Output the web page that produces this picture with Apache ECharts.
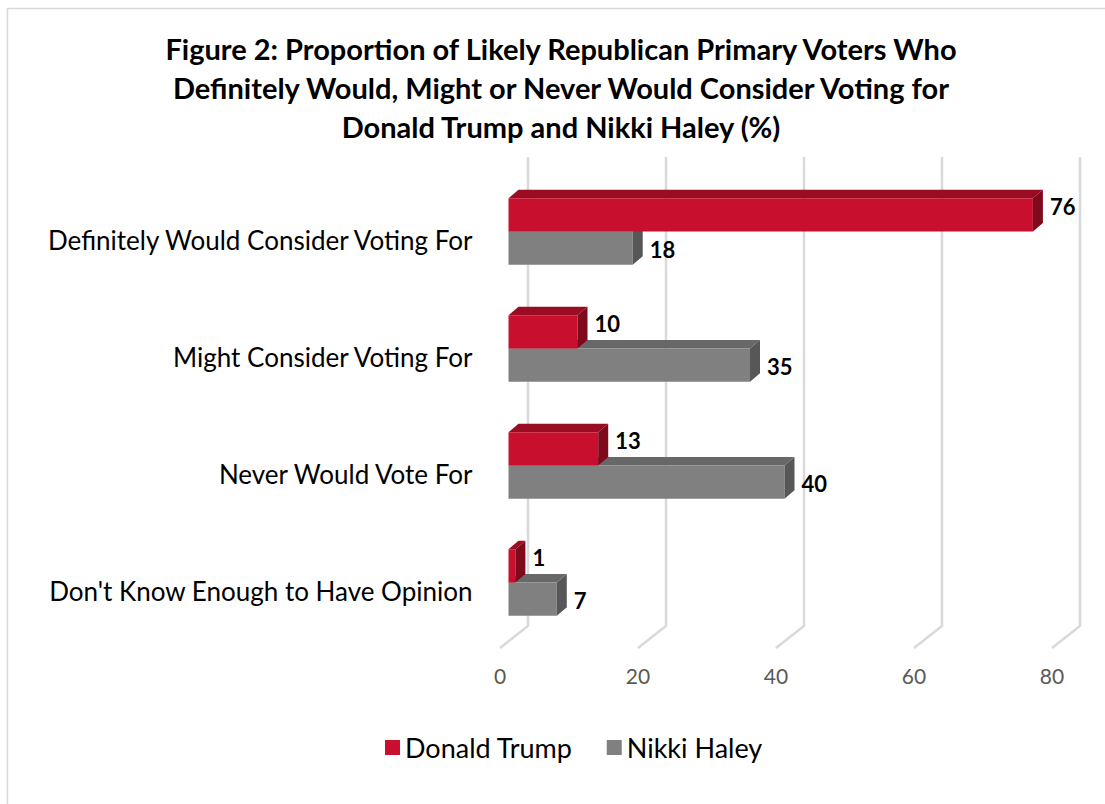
<!DOCTYPE html>
<html>
<head>
<meta charset="utf-8">
<script src="https://cdn.jsdelivr.net/npm/echarts@6/dist/echarts.min.js"></script>
<style>
  html, body { margin: 0; padding: 0; background: #fff; }
  #chart { width: 1105px; height: 804px; }
</style>
</head>
<body>
<div id="chart"></div>
<script>
// Survey answers, top to bottom
const categories = [
  'Definitely Would Consider Voting For',
  'Might Consider Voting For',
  'Never Would Vote For',
  "Don't Know Enough to Have Opinion"
];
const trumpValues = [76, 10, 13, 1];
const haleyValues = [18, 35, 40, 7];
const xTicks = [0, 20, 40, 60, 80];

const FONT = 'Lato, "Open Sans", sans-serif';

// Extruded bar depth (screen offset of the back face)
const DEPTH_X = 10, DEPTH_Y = -8.5;

function barRenderer(slot, colors, labelShift) {
  return function (params, api) {
    const v = api.value(0);
    const c = api.value(1);
    const base = api.coord([0, c]);
    const end = api.coord([v, c]);
    const band = api.size([0, 1])[1];
    const h = band * 0.285;
    const y0 = slot === 0 ? base[1] - h : base[1];
    const y1 = y0 + h;
    const x0 = base[0], x1 = end[0];
    return {
      type: 'group',
      children: [
        { type: 'polygon', shape: { points: [[x0, y0], [x0 + DEPTH_X, y0 + DEPTH_Y], [x1 + DEPTH_X, y0 + DEPTH_Y], [x1, y0]] },
          style: { fill: colors.top } },
        { type: 'rect', shape: { x: x0, y: y0, width: x1 - x0, height: h },
          style: { fill: colors.front } },
        { type: 'polygon', shape: { points: [[x1, y0], [x1 + DEPTH_X, y0 + DEPTH_Y], [x1 + DEPTH_X, y1 + DEPTH_Y], [x1, y1]] },
          style: { fill: colors.side } },
        { type: 'text', x: x1 + 17, y: (y0 + y1) / 2 + labelShift,
          style: { text: String(v), fill: '#000', font: 'bold 22px ' + FONT,
                   textAlign: 'left', textVerticalAlign: 'middle' } }
      ]
    };
  };
}

// Back-wall gridlines with their floor returns
function gridRenderer(params, api) {
  const v = api.value(0);
  const p = api.coord([v, 0]);
  const cs = params.coordSys;
  const bx = p[0] + 19.5;
  const top = cs.y - 16;
  const bottom = cs.y + cs.height - 15;
  return {
    type: 'polyline',
    shape: { points: [[bx, top], [bx, bottom], [bx - 28, bottom + 22]] },
    style: { stroke: '#d9d9d9', lineWidth: 2.5, fill: null }
  };
}

const chart = echarts.init(document.getElementById('chart'), null, { renderer: 'svg' });

chart.setOption({
  backgroundColor: '#fff',
  animation: false,
  textStyle: { fontFamily: FONT },
  title: {
    text: 'Figure 2: Proportion of Likely Republican Primary Voters Who\nDefinitely Would, Might or Never Would Consider Voting for\nDonald Trump and Nikki Haley (%)',
    left: 561, top: 28.5, padding: 0, textAlign: 'center',
    textStyle: { fontFamily: FONT, fontSize: 29, fontWeight: 'bold', color: '#000', lineHeight: 39 }
  },
  graphic: [{
    type: 'rect', silent: true, z: -10,
    shape: { x: 7.5, y: 8.5, width: 1110, height: 810 },
    style: { fill: null, stroke: '#d9d9d9', lineWidth: 1.5 }
  }],
  legend: {
    top: 729, left: 380,
    itemWidth: 15, itemHeight: 15, itemGap: 34,
    icon: 'rect',
    textStyle: { fontFamily: FONT, fontSize: 27, color: '#000' },
    data: [
      { name: 'Donald Trump', itemStyle: { color: '#C8102E' } },
      { name: 'Nikki Haley', itemStyle: { color: '#808080' } }
    ]
  },
  grid: { left: 508.5, right: 44.5, top: 173, bottom: 163, containLabel: false },
  xAxis: {
    type: 'value', min: 0, max: 80, interval: 20,
    axisLine: { show: false }, axisTick: { show: false }, splitLine: { show: false },
    axisLabel: { fontFamily: FONT, fontSize: 21, color: '#595959', margin: 24, padding: [0, 17, 0, 0] }
  },
  yAxis: {
    type: 'category', inverse: true, data: categories,
    axisLine: { show: false }, axisTick: { show: false },
    axisLabel: { fontFamily: FONT, fontSize: 26, color: '#000', margin: 36,
                 verticalAlign: 'top', lineHeight: 16 }
  },
  series: [
    {
      type: 'custom', name: 'grid', silent: true, z: 1,
      renderItem: gridRenderer,
      data: xTicks.map(t => [t, 0]),
      encode: { x: 0, y: 1 }
    },
    {
      type: 'custom', name: 'Nikki Haley', z: 2,
      itemStyle: { color: '#808080' },
      renderItem: barRenderer(1, { front: '#808080', top: '#686868', side: '#575757' }, 1),
      data: haleyValues.map((v, i) => [v, i]),
      encode: { x: 0, y: 1 }
    },
    {
      type: 'custom', name: 'Donald Trump', z: 3,
      itemStyle: { color: '#C8102E' },
      renderItem: barRenderer(0, { front: '#C8102E', top: '#9A0C22', side: '#7E0A1C' }, -8),
      data: trumpValues.map((v, i) => [v, i]),
      encode: { x: 0, y: 1 }
    }
  ]
});
</script>
</body>
</html>
